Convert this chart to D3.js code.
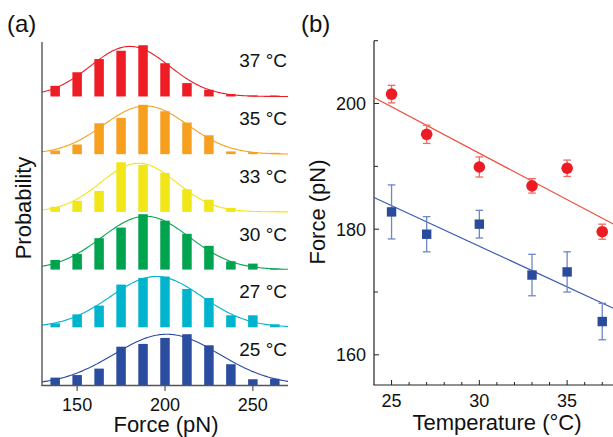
<!DOCTYPE html>
<html>
<head>
<meta charset="utf-8">
<script src="https://cdn.jsdelivr.net/npm/d3@7"></script>
<style>
  body { margin: 0; background: #fff; }
  svg { display: block; font-family: "Liberation Sans", Arial, sans-serif; }
</style>
</head>
<body>
<div id="chart"></div>
<script>
// ---- panel (a): force histograms, bottom (25 °C) to top (37 °C)
const binCenters = [137.5, 150, 162.5, 175, 187.5, 200, 212.5, 225, 237.5, 250, 262.5];
const tempLabels = ["25 °C", "27 °C", "30 °C", "33 °C", "35 °C", "37 °C"];
const tempColors = ["#2b4d9f", "#00b4cd", "#00a44f", "#f0e618", "#f7a01f", "#ee1d25"];

const prob25 = [0.032, 0.043, 0.071, 0.166, 0.178, 0.204, 0.220, 0.172, 0.090, 0.025, 0.027];
const prob27 = [0.017, 0.056, 0.094, 0.185, 0.214, 0.220, 0.166, 0.127, 0.052, 0.052, 0.013];
const prob30 = [0.042, 0.068, 0.136, 0.182, 0.240, 0.212, 0.155, 0.103, 0.036, 0.026, 0.004];
const prob33 = [0.022, 0.048, 0.091, 0.215, 0.204, 0.169, 0.098, 0.053, 0.017, 0.002, 0.004];
const prob35 = [0.016, 0.042, 0.134, 0.157, 0.214, 0.186, 0.137, 0.082, 0.012, 0.009, 0.006];
const prob37 = [0.046, 0.105, 0.162, 0.198, 0.222, 0.144, 0.058, 0.029, 0.010, 0.004, 0.004];
const probs = [prob25, prob27, prob30, prob33, prob35, prob37];

// gaussian fit parameters
const fitMean  = [201, 195, 189, 185, 189, 180];
const fitSigma = [30, 26, 25, 21.5, 24, 22.5];
const fitAmp   = [0.220, 0.220, 0.231, 0.211, 0.209, 0.217];

const stackStep = 0.25;
const xTicksA = [150, 200, 250];

// ---- panel (b): rupture force vs temperature
const tempB = [25, 27, 30, 33, 35, 37];
const forceRed = [201.5, 195.1, 189.9, 186.9, 189.7, 179.6];
const errRed   = [1.4, 1.45, 1.6, 1.15, 1.3, 1.2];
const forceBlue = [182.75, 179.2, 180.8, 172.7, 173.2, 165.3];
const errBlue   = [4.3, 2.8, 2.2, 3.3, 3.2, 2.9];

// linear fits: values at the ends of lineT
const lineT = [24, 38];
const lineRed = [200.95, 180.27];
const lineBlue = [185.05, 166.93];

const xTicksB = [25, 30, 35];
const yTicksB = [160, 180, 200];

const svg = d3.select("#chart").append("svg")
  .attr("width", 613)
  .attr("height", 437);

// ================= panel (a)
const xA = d3.scaleLinear().domain([130, 270]).range([42, 288]);
const yA = d3.scaleLinear().domain([0, 1.486]).range([385, 42]);
const barW = 9.5;

const gA = svg.append("g");

probs.forEach((p, i) => {
  const base = i * stackStep;
  const g = gA.append("g");
  g.selectAll("rect")
    .data(p)
    .join("rect")
    .attr("x", (d, j) => xA(binCenters[j]) - barW / 2)
    .attr("width", barW)
    .attr("y", d => yA(base + d))
    .attr("height", d => yA(base) - yA(base + d))
    .attr("fill", tempColors[i]);

  const pts = d3.range(130, 270.01, 1).map(f =>
    [f, base + fitAmp[i] * Math.exp(-Math.pow(f - fitMean[i], 2) / (2 * fitSigma[i] * fitSigma[i]))]);
  g.append("path")
    .datum(pts)
    .attr("fill", "none")
    .attr("stroke", tempColors[i])
    .attr("stroke-width", 1.1)
    .attr("d", d3.line().x(d => xA(d[0])).y(d => yA(d[1])));

  g.append("text")
    .attr("x", 287)
    .attr("y", yA(base) - 29)
    .attr("text-anchor", "end")
    .attr("font-size", 19)
    .attr("fill", "#111")
    .text(tempLabels[i]);
});

// axes (a)
gA.append("line")
  .attr("x1", 42).attr("x2", 42).attr("y1", 42).attr("y2", 385.5)
  .attr("stroke", "#555").attr("stroke-width", 1.4);
gA.append("line")
  .attr("x1", 41.3).attr("x2", 288).attr("y1", 385.5).attr("y2", 385.5)
  .attr("stroke", "#555").attr("stroke-width", 1.4);
gA.selectAll(".tickA")
  .data(xTicksA)
  .join("line")
  .attr("class", "tickA")
  .attr("x1", d => xA(d)).attr("x2", d => xA(d))
  .attr("y1", 385.5).attr("y2", 391)
  .attr("stroke", "#555").attr("stroke-width", 1.2);
gA.selectAll(".tickLabelA")
  .data(xTicksA)
  .join("text")
  .attr("class", "tickLabelA")
  .attr("x", d => xA(d))
  .attr("y", 410.5)
  .attr("text-anchor", "middle")
  .attr("font-size", 18)
  .attr("fill", "#111")
  .text(d => d);

gA.append("text")
  .attr("x", 166).attr("y", 431.5)
  .attr("text-anchor", "middle")
  .attr("font-size", 22)
  .attr("fill", "#111")
  .text("Force (pN)");
gA.append("text")
  .attr("transform", "translate(31,208) rotate(-90)")
  .attr("text-anchor", "middle")
  .attr("font-size", 22)
  .attr("fill", "#111")
  .text("Probability");
gA.append("text")
  .attr("x", 7).attr("y", 32)
  .attr("font-size", 24)
  .attr("fill", "#111")
  .text("(a)");

// ================= panel (b)
const xB = d3.scaleLinear().domain([24, 38]).range([374, 619.8]);
const yB = d3.scaleLinear().domain([155.2, 210]).range([385, 40.7]);
const gB = svg.append("g");

gB.append("line")
  .attr("x1", 374).attr("x2", 374).attr("y1", 40.7).attr("y2", 385)
  .attr("stroke", "#222").attr("stroke-width", 1.2);
gB.append("line")
  .attr("x1", 373.4).attr("x2", 620).attr("y1", 385).attr("y2", 385)
  .attr("stroke", "#222").attr("stroke-width", 1.2);

// ticks pointing inward
gB.selectAll(".ytB")
  .data(d3.range(160, 211, 10))
  .join("line")
  .attr("class", "ytB")
  .attr("x1", 374).attr("x2", d => 374 + (d % 20 === 0 ? 5 : 4))
  .attr("y1", d => yB(d)).attr("y2", d => yB(d))
  .attr("stroke", "#222").attr("stroke-width", 1);
gB.selectAll(".xtB")
  .data(d3.range(25, 38, 1))
  .join("line")
  .attr("class", "xtB")
  .attr("x1", d => xB(d)).attr("x2", d => xB(d))
  .attr("y1", 385).attr("y2", d => 385 - (d % 5 === 0 ? 5 : 3))
  .attr("stroke", "#222").attr("stroke-width", 1);

gB.selectAll(".ylB")
  .data(yTicksB)
  .join("text")
  .attr("class", "ylB")
  .attr("x", 366)
  .attr("y", d => yB(d) + 6.5)
  .attr("text-anchor", "end")
  .attr("font-size", 18)
  .attr("fill", "#111")
  .text(d => d);
gB.selectAll(".xlB")
  .data(xTicksB)
  .join("text")
  .attr("class", "xlB")
  .attr("x", d => xB(d))
  .attr("y", 407)
  .attr("text-anchor", "middle")
  .attr("font-size", 18)
  .attr("fill", "#111")
  .text(d => d);

gB.append("text")
  .attr("x", 497).attr("y", 430)
  .attr("text-anchor", "middle")
  .attr("font-size", 22)
  .attr("fill", "#111")
  .text("Temperature (°C)");
gB.append("text")
  .attr("transform", "translate(325,212) rotate(-90)")
  .attr("text-anchor", "middle")
  .attr("font-size", 22)
  .attr("fill", "#111")
  .text("Force (pN)");
gB.append("text")
  .attr("x", 301).attr("y", 32)
  .attr("font-size", 24)
  .attr("fill", "#111")
  .text("(b)");

// fit lines
const fitLine = d3.line().x(d => xB(d[0])).y(d => yB(d[1]));
gB.append("path")
  .datum(d3.zip(lineT, lineRed))
  .attr("fill", "none").attr("stroke", "#f04a36").attr("stroke-width", 1.2)
  .attr("d", fitLine);
gB.append("path")
  .datum(d3.zip(lineT, lineBlue))
  .attr("fill", "none").attr("stroke", "#3d5db3").attr("stroke-width", 1.2)
  .attr("d", fitLine);

function errorBars(vals, errs, color) {
  const g = gB.append("g").attr("stroke", color).attr("stroke-width", 1.3).attr("fill", "none");
  vals.forEach((v, i) => {
    const x = xB(tempB[i]);
    g.append("line").attr("x1", x).attr("x2", x)
      .attr("y1", yB(v + errs[i])).attr("y2", yB(v - errs[i]));
    [v + errs[i], v - errs[i]].forEach(e => {
      g.append("line").attr("x1", x - 3.8).attr("x2", x + 3.8)
        .attr("y1", yB(e)).attr("y2", yB(e));
    });
  });
}
errorBars(forceBlue, errBlue, "#6f85c6");
errorBars(forceRed, errRed, "#f36a5e");

gB.selectAll(".sq")
  .data(forceBlue)
  .join("rect")
  .attr("class", "sq")
  .attr("x", (d, i) => xB(tempB[i]) - 4.7)
  .attr("y", d => yB(d) - 4.7)
  .attr("width", 9.4).attr("height", 9.4)
  .attr("fill", "#2a4b9b");
gB.selectAll(".dot")
  .data(forceRed)
  .join("circle")
  .attr("class", "dot")
  .attr("cx", (d, i) => xB(tempB[i]))
  .attr("cy", d => yB(d))
  .attr("r", 5.8)
  .attr("fill", "#ec1c24");
</script>
</body>
</html>
